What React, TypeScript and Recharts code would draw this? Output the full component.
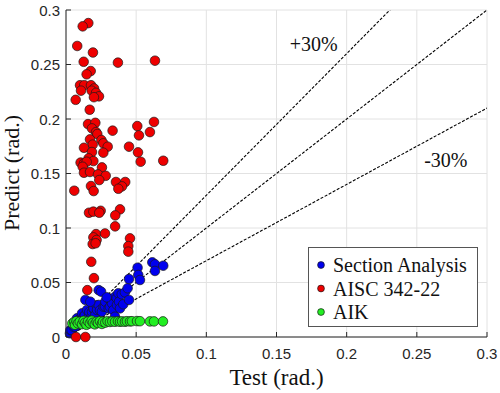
import { ScatterChart, Scatter, XAxis, YAxis, CartesianGrid, ReferenceLine, ReferenceDot, Legend } from 'recharts';

// [test, predict] pairs (rad.)
const sectionAnalysis: [number, number][] = [
  [0.0028, 0.0034], [0.0031, 0.0064], [0.004, 0.0064], [0.0055, 0.0094], [0.0064, 0.0094],
  [0.0078, 0.0171], [0.0095, 0.0161], [0.0102, 0.0156], [0.0114, 0.0217], [0.0126, 0.0186],
  [0.0135, 0.02], [0.015, 0.0248], [0.0162, 0.0186], [0.0166, 0.023], [0.0183, 0.0191],
  [0.0185, 0.0232], [0.0195, 0.0261], [0.0197, 0.0263], [0.0209, 0.0202], [0.0218, 0.0291],
  [0.0221, 0.0248], [0.0233, 0.0294], [0.0242, 0.0245], [0.0256, 0.0232], [0.0268, 0.0278],
  [0.0278, 0.0282], [0.028, 0.0324], [0.0304, 0.0263], [0.0304, 0.0355], [0.0313, 0.0276],
  [0.0328, 0.034], [0.0328, 0.0309], [0.0337, 0.0245], [0.0349, 0.0186], [0.0351, 0.037],
  [0.0361, 0.0355], [0.0363, 0.0294], [0.0373, 0.0401], [0.0378, 0.0324], [0.0385, 0.0263],
  [0.0397, 0.0392], [0.0408, 0.03], [0.042, 0.041], [0.0439, 0.0447], [0.0449, 0.034],
  [0.0449, 0.0532], [0.051, 0.0636], [0.0515, 0.0569], [0.0527, 0.0523], [0.0615, 0.0685],
  [0.0634, 0.0667], [0.0634, 0.0606], [0.0693, 0.0654], [0.0138, 0.034], [0.0173, 0.0324],
  [0.0233, 0.043], [0.025, 0.0416], [0.029, 0.0364],
];

const aisc: [number, number][] = [
  [0.0159, 0.288], [0.0119, 0.285], [0.008, 0.267], [0.0192, 0.261], [0.0126, 0.2525],
  [0.037, 0.2517], [0.0634, 0.2535], [0.0176, 0.244], [0.0147, 0.241], [0.01, 0.231],
  [0.013, 0.231], [0.0178, 0.231], [0.02, 0.228], [0.0107, 0.226], [0.0183, 0.226],
  [0.0214, 0.224], [0.0235, 0.2208], [0.0199, 0.22], [0.0069, 0.2176], [0.0169, 0.2085],
  [0.0157, 0.1953], [0.0209, 0.1965], [0.0185, 0.1914], [0.0214, 0.188], [0.0223, 0.1862],
  [0.0332, 0.1893], [0.0508, 0.1935], [0.0627, 0.1973], [0.052, 0.185], [0.0598, 0.188],
  [0.0171, 0.1813], [0.0252, 0.1807], [0.019, 0.1765], [0.0266, 0.1777], [0.0297, 0.1746],
  [0.0128, 0.1736], [0.0449, 0.1746], [0.0185, 0.1697], [0.0266, 0.1691], [0.0513, 0.1694],
  [0.0161, 0.1639], [0.0195, 0.1614], [0.0104, 0.16], [0.0128, 0.1593], [0.0147, 0.1608],
  [0.0532, 0.1608], [0.0693, 0.1617], [0.0119, 0.1562], [0.0256, 0.1556], [0.0128, 0.1507],
  [0.0171, 0.1514], [0.0228, 0.1492], [0.0283, 0.1479], [0.0237, 0.144], [0.0356, 0.1422],
  [0.0422, 0.1422], [0.0399, 0.1382], [0.0373, 0.136], [0.0059, 0.1342], [0.0178, 0.1385],
  [0.0197, 0.1339], [0.0164, 0.114], [0.0195, 0.115], [0.0247, 0.1158], [0.0237, 0.114],
  [0.0385, 0.1171], [0.0351, 0.1116], [0.035, 0.1015], [0.0214, 0.0944], [0.0195, 0.0914],
  [0.0278, 0.095], [0.0218, 0.089], [0.019, 0.0853], [0.0211, 0.086], [0.0456, 0.0905],
  [0.0444, 0.0834], [0.0444, 0.0783], [0.018, 0.069], [0.0199, 0.054], [0.0152, 0.043],
  [0.0071, 0.0], [0.0138, 0.0],
];

const aik: [number, number][] = [
  [0.0045, 0.0125], [0.0058, 0.0138], [0.0064, 0.0112], [0.0075, 0.0145], [0.0085, 0.0125],
  [0.0098, 0.014], [0.0114, 0.0118], [0.0125, 0.0148], [0.0135, 0.013], [0.0146, 0.0112],
  [0.0157, 0.0142], [0.017, 0.0125], [0.0183, 0.015], [0.0192, 0.013], [0.0205, 0.0116],
  [0.0218, 0.014], [0.0228, 0.0128], [0.0242, 0.0145], [0.0256, 0.012], [0.0263, 0.014],
  [0.028, 0.0132], [0.0296, 0.0145], [0.0313, 0.0138], [0.033, 0.0143], [0.0349, 0.014],
  [0.037, 0.0145], [0.0385, 0.014], [0.04, 0.0143], [0.042, 0.014], [0.0434, 0.0145],
  [0.0456, 0.0143], [0.047, 0.0145], [0.0506, 0.0146], [0.0527, 0.0145], [0.0598, 0.0143],
  [0.0627, 0.0143], [0.0691, 0.0143],
];

const xTicks = [0, 0.05, 0.1, 0.15, 0.2, 0.25, 0.3];
const yTicks = [0, 0.05, 0.1, 0.15, 0.2, 0.25, 0.3];

const SERIES = [
  { name: 'Section Analysis', color: '#0000ee' },
  { name: 'AISC 342-22', color: '#ee0000' },
  { name: 'AIK', color: '#22ee22' },
];

const AXIS = '#262626';
const GRID = '#e2e2e2';
const SERIF = '"Liberation Serif", "Times New Roman", serif';
const SANS = '"Liberation Sans", Arial, sans-serif';

const toPts = (arr: [number, number][]) => arr.map(([x, y]) => ({ x, y }));

const dot = (fill: string) => (p: any) => (
  <circle cx={p.cx} cy={p.cy} r={4.8} fill={fill} stroke="#1a1a1a" strokeWidth={0.7} />
);

const XTick = (p: any) => (
  <g>
    <line x1={p.x} y1={p.y} x2={p.x} y2={p.y - 5} stroke={AXIS} />
    <text x={p.x} y={p.y + 16} textAnchor="middle" dominantBaseline="central" fontSize={15} fontFamily={SANS} fill={AXIS}>
      {String(p.payload.value)}
    </text>
  </g>
);

const YTick = (p: any) => (
  <g>
    <line x1={p.x} y1={p.y} x2={p.x + 5} y2={p.y} stroke={AXIS} />
    <text x={p.x - 6} y={p.y} textAnchor="end" dominantBaseline="central" fontSize={15} fontFamily={SANS} fill={AXIS}>
      {String(p.payload.value)}
    </text>
  </g>
);

function LegendBox() {
  return (
    <svg width={170} height={80}>
      <rect x={0.5} y={0.5} width={169} height={79} fill="#fff" stroke="#555" />
      {SERIES.map((s, i) => (
        <g key={s.name}>
          <circle cx={13} cy={18 + i * 23.5} r={3.4} fill={s.color} stroke="#1a1a1a" strokeWidth={0.7} />
          <text x={25} y={18 + i * 23.5} dominantBaseline="central" fontSize={20} fontFamily={SERIF} fill="#111">
            {s.name}
          </text>
        </g>
      ))}
    </svg>
  );
}

const labelStyle = { fontSize: 20, fontFamily: SERIF, fill: '#111' };
const guide = { stroke: '#000', strokeWidth: 1.1, strokeDasharray: '3 1.6' };

export default function App() {
  return (
    <div style={{ position: 'absolute', left: 0, top: 0, background: '#fff' }}>
      <ScatterChart width={500} height={393} margin={{ top: 10, right: 13, bottom: 0, left: 0 }}>
        <CartesianGrid stroke={GRID} />
        <XAxis
          type="number"
          dataKey="x"
          domain={[0, 0.3]}
          ticks={xTicks}
          tickSize={0}
          tickMargin={0}
          tickLine={false}
          tick={<XTick />}
          axisLine={{ stroke: AXIS }}
          height={56}
          label={{ value: 'Test (rad.)', position: 'insideBottom', offset: 8, style: { ...labelStyle, fontSize: 23 } }}
        />
        <YAxis
          type="number"
          dataKey="y"
          domain={[0, 0.3]}
          ticks={yTicks}
          tickSize={0}
          tickMargin={0}
          tickLine={false}
          tick={<YTick />}
          axisLine={{ stroke: AXIS }}
          width={66}
          label={{
            content: () => (
              <text x={19} y={173} transform="rotate(-90 19 173)" textAnchor="middle" fontSize={22} fontFamily={SERIF} fill="#111">
                Predict (rad.)
              </text>
            ),
          }}
        />
        <Scatter name={SERIES[0].name} data={toPts(sectionAnalysis)} shape={dot(SERIES[0].color)} isAnimationActive={false} />
        <Scatter name={SERIES[1].name} data={toPts(aisc)} shape={dot(SERIES[1].color)} isAnimationActive={false} />
        <Scatter name={SERIES[2].name} data={toPts(aik)} shape={dot(SERIES[2].color)} isAnimationActive={false} />
        <ReferenceLine segment={[{ x: 0, y: 0 }, { x: 0.3, y: 0.39 }]} {...guide} ifOverflow="hidden" />
        <ReferenceLine segment={[{ x: 0, y: 0 }, { x: 0.3, y: 0.3 }]} {...guide} ifOverflow="hidden" />
        <ReferenceLine segment={[{ x: 0, y: 0 }, { x: 0.3, y: 0.21 }]} {...guide} ifOverflow="hidden" />
        <ReferenceDot x={0.1766} y={0.2688} r={0} fill="none" stroke="none" label={{ value: '+30%', position: 'center', style: labelStyle }} />
        <ReferenceDot x={0.2707} y={0.1624} r={0} fill="none" stroke="none" label={{ value: '-30%', position: 'center', style: labelStyle }} />
        <Legend
          layout="vertical"
          align="center"
          verticalAlign="middle"
          wrapperStyle={{ position: 'absolute', left: 308, top: 247, width: 170, height: 80 }}
          content={() => <LegendBox />}
        />
      </ScatterChart>
    </div>
  );
}
